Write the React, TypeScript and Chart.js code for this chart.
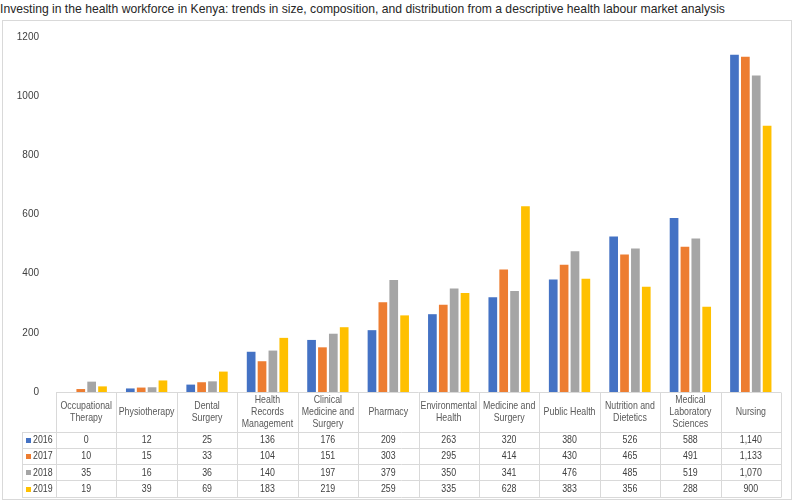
import React, { useEffect, useRef } from "react";
import { Chart, registerables } from "chart.js";

Chart.register(...registerables);

const TITLE =
  "Investing in the health workforce in Kenya: trends in size, composition, and distribution from a descriptive health labour market analysis";

const categories: string[][] = [
  ["Occupational", "Therapy"],
  ["Physiotherapy"],
  ["Dental", "Surgery"],
  ["Health", "Records", "Management"],
  ["Clinical", "Medicine and", "Surgery"],
  ["Pharmacy"],
  ["Environmental", "Health"],
  ["Medicine and", "Surgery"],
  ["Public Health"],
  ["Nutrition and", "Dietetics"],
  ["Medical", "Laboratory", "Sciences"],
  ["Nursing"],
];

const seriesNames = ["2016", "2017", "2018", "2019"];
const values2016 = [0, 12, 25, 136, 176, 209, 263, 320, 380, 526, 588, 1140];
const values2017 = [10, 15, 33, 104, 151, 303, 295, 414, 430, 465, 491, 1133];
const values2018 = [35, 16, 36, 140, 197, 379, 350, 341, 476, 485, 519, 1070];
const values2019 = [19, 39, 69, 183, 219, 259, 335, 628, 383, 356, 288, 900];
const seriesColors = ["#4472C4", "#ED7D31", "#A5A5A5", "#FFC000"];

const FONT = '"Liberation Sans", Arial, sans-serif';
const NARROW = 0.8;

const fmt = (v: number) => v.toLocaleString("en-US");

function narrowText(ctx: CanvasRenderingContext2D, text: string, x: number, y: number, align: "left" | "center") {
  ctx.save();
  ctx.translate(x, y);
  ctx.scale(NARROW, 1);
  ctx.textAlign = align;
  ctx.fillText(text, 0, 0);
  ctx.restore();
}

const tablePlugin = {
  id: "dataTable",
  afterDraw(chart: any) {
    const { ctx, chartArea } = chart;
    const { left, right, bottom } = chartArea;
    const n = categories.length;
    const colW = (right - left) / n;
    const headerH = 39.5;
    const rowH = 16.3;
    const legendLeft = 19;
    const rows = [values2016, values2017, values2018, values2019];
    const tableBottom = bottom + headerH + rowH * rows.length;
    const px = (v: number) => Math.round(v) + 0.5;

    ctx.save();
    ctx.strokeStyle = "#d9d9d9";
    ctx.lineWidth = 1;
    ctx.beginPath();
    ctx.moveTo(left, px(bottom));
    ctx.lineTo(right, px(bottom));
    for (let r = 0; r <= rows.length; r++) {
      const y = px(bottom + headerH + r * rowH);
      ctx.moveTo(legendLeft, y);
      ctx.lineTo(right, y);
    }
    ctx.moveTo(px(legendLeft), px(bottom + headerH));
    ctx.lineTo(px(legendLeft), px(tableBottom));
    for (let c = 0; c <= n; c++) {
      const x = px(left + c * colW);
      ctx.moveTo(x, px(bottom));
      ctx.lineTo(x, px(tableBottom));
    }
    ctx.stroke();

    ctx.fillStyle = "#595959";
    ctx.font = `11px ${FONT}`;
    ctx.textBaseline = "middle";
    const lineH = 12;
    for (let c = 0; c < n; c++) {
      const lines = categories[c];
      const cx = left + (c + 0.5) * colW;
      const cy = bottom + headerH / 2;
      const startY = cy - ((lines.length - 1) * lineH) / 2;
      lines.forEach((ln, i) => narrowText(ctx, ln, cx, startY + i * lineH, "center"));
    }

    for (let r = 0; r < rows.length; r++) {
      const cy = bottom + headerH + (r + 0.5) * rowH + 0.5;
      ctx.fillStyle = "#404040";
      for (let c = 0; c < n; c++) {
        const cx = left + (c + 0.5) * colW;
        narrowText(ctx, fmt(rows[r][c]), cx, cy, "center");
      }
      ctx.fillStyle = seriesColors[r];
      ctx.fillRect(23, Math.round(cy - 2.5), 5, 5);
      ctx.fillStyle = "#404040";
      narrowText(ctx, seriesNames[r], 30, cy, "left");
    }
    ctx.restore();
  },
};

export default function App() {
  const ref = useRef<HTMLCanvasElement | null>(null);

  useEffect(() => {
    if (!ref.current) return;
    const chart = new Chart(ref.current, {
      type: "bar",
      data: {
        labels: categories,
        datasets: [values2016, values2017, values2018, values2019].map((d, i) => ({
          label: seriesNames[i],
          data: d,
          backgroundColor: seriesColors[i],
          borderWidth: 0,
          barPercentage: 0.8,
          categoryPercentage: 0.72,
        })),
      },
      options: {
        animation: false,
        responsive: false,
        devicePixelRatio: 1,
        layout: { padding: { left: 0, right: 10, top: 16, bottom: 107 } },
        plugins: {
          legend: { display: false },
          tooltip: { enabled: false },
          title: { display: false },
        },
        scales: {
          x: { display: false },
          y: {
            min: 0,
            max: 1200,
            ticks: {
              stepSize: 200,
              padding: 9,
              color: "#404040",
              font: { family: FONT, size: 10 },
              callback: (v: any) => String(v),
            },
            grid: { display: false },
            border: { display: false },
            afterFit: (s: any) => {
              s.width = 53;
            },
          },
        },
      },
      plugins: [tablePlugin],
    });
    return () => chart.destroy();
  }, []);

  return (
    <div style={{ position: "absolute", left: 0, top: 0, width: 795, height: 503, background: "#fff" }}>
      <div
        style={{
          position: "absolute",
          left: 0,
          top: 1,
          whiteSpace: "nowrap",
          fontFamily: FONT,
          fontSize: 13,
          color: "#262626",
          lineHeight: "16px",
          transform: "scaleX(0.935)",
          transformOrigin: "0 0",
        }}
      >
        {TITLE}
      </div>
      <div
        style={{
          position: "absolute",
          left: 2,
          top: 20,
          width: 788,
          height: 478,
          border: "1px solid #d9d9d9",
        }}
      >
        <canvas ref={ref} width={788} height={478} style={{ display: "block", width: 788, height: 478 }} />
      </div>
    </div>
  );
}
